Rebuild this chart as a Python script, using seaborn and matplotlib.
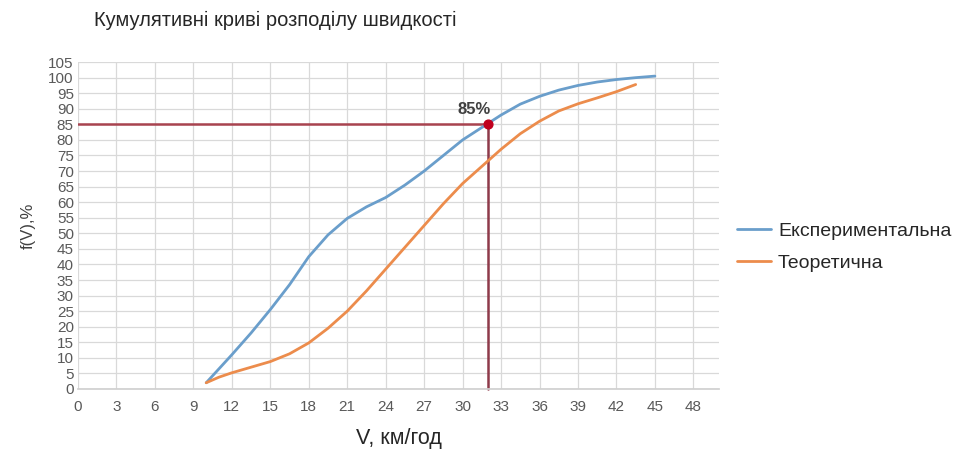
import matplotlib
matplotlib.use("Agg")
import matplotlib.pyplot as plt
import seaborn as sns
import pandas as pd

# Experimental cumulative curve
exp_v = [10, 11, 12, 13.5, 15, 16.5, 18, 19.5, 21, 22.5, 24, 25.5, 27, 28.5, 30,
         31.5, 33, 34.5, 36, 37.5, 39, 40.5, 42, 43.5, 45]
exp_f = [2, 6.5, 11, 18, 25.5, 33.5, 42.5, 49.5, 54.8, 58.5, 61.5, 65.5, 70, 75, 80,
         84, 88, 91.5, 94, 96, 97.5, 98.6, 99.4, 100, 100.5]

# Theoretical cumulative curve
theo_v = [10, 11, 12, 13.5, 15, 16.5, 18, 19.5, 21, 22.5, 24, 25.5, 27, 28.5, 30,
          31.5, 33, 34.5, 36, 37.5, 39, 40.5, 42, 43.5]
theo_f = [2, 3.8, 5.2, 7, 8.8, 11.3, 14.8, 19.5, 25, 31.5, 38.5, 45.5, 52.5, 59.5, 66,
          71.5, 77, 82, 86, 89.3, 91.6, 93.5, 95.5, 97.8]

# 85% marker
mark_v = 32
mark_f = 85

x_ticks = list(range(0, 49, 3))
y_ticks = list(range(0, 106, 5))

sns.set_theme(style="white")
plt.rcParams['font.family'] = ['Liberation Sans', 'DejaVu Sans']

fig = plt.figure(figsize=(9.62, 4.5), dpi=100)
ax = fig.add_axes([0.0811, 0.1356, 0.7474 - 0.0811, 0.862 - 0.1356])

df_exp = pd.DataFrame({"V": exp_v, "F": exp_f})
df_theo = pd.DataFrame({"V": theo_v, "F": theo_f})

sns.lineplot(data=df_exp, x="V", y="F", ax=ax, color="#6a9ecb", lw=2.0,
             label="Експериментальна", zorder=3)
sns.lineplot(data=df_theo, x="V", y="F", ax=ax, color="#ec8c4c", lw=2.0,
             label="Теоретична", zorder=3)

# Reference lines
ax.plot([0, mark_v], [mark_f, mark_f], color="#a8434f", lw=1.8, zorder=2)
ax.plot([mark_v, mark_v], [0, mark_f], color="#8e3a4a", lw=1.8, zorder=2, clip_on=False)
ax.scatter([mark_v], [mark_f], s=40, color="#c0001e", zorder=5)
ax.text(mark_v - 1.1, mark_f + 2.3, "85%", ha="center", va="bottom", fontsize=12,
        color="#404040", fontweight="semibold")

ax.set_xlim(0, 50)
ax.set_ylim(0, 105)
ax.set_xticks(x_ticks)
ax.set_yticks(y_ticks)
ax.grid(True, color="#d9d9d9", lw=0.9)
for s in ["top", "right", "left"]:
    ax.spines[s].set_visible(False)
ax.spines["bottom"].set_color("#d0d0d0")
ax.tick_params(axis="both", length=0, labelsize=11, colors="#595959", pad=8)
ax.tick_params(axis="y", pad=3)

ax.set_xlabel("V, км/год", fontsize=15.5, color="#262626", labelpad=10)
ax.set_ylabel("f(V),%", fontsize=12, color="#404040", labelpad=9)

fig.text(0.098, 0.955, "Кумулятивні криві розподілу швидкості", fontsize=14.5,
         color="#262626", ha="left", va="center")

ax.get_legend().remove()
handles, labels = ax.get_legend_handles_labels()
fig.legend(handles, labels, loc="upper left", bbox_to_anchor=(0.748, 0.545),
           frameon=False, fontsize=14, handlelength=1.75, handletextpad=0.35,
           labelspacing=0.75, labelcolor="#262626")

fig.savefig("out.png", dpi=100)
